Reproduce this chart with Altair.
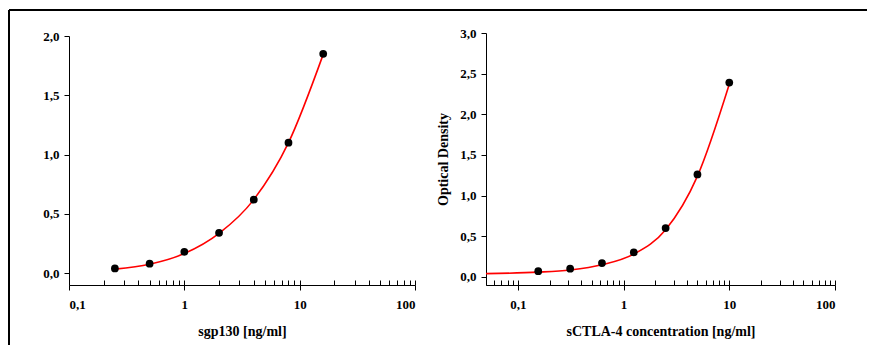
import altair as alt
import pandas as pd

# Left panel: sgp130
sgp_conc = [0.25, 0.5, 1, 2, 4, 8, 16]
sgp_od = [0.04, 0.08, 0.18, 0.34, 0.62, 1.10, 1.85]
sgp_curve_x = [0.25, 0.5, 1, 2, 4, 8, 16]
sgp_curve_y = [0.034, 0.075, 0.165, 0.335, 0.62, 1.10, 1.845]

# Right panel: sCTLA-4
ctla_conc = [0.156, 0.3125, 0.625, 1.25, 2.5, 5, 10]
ctla_od = [0.07, 0.10, 0.17, 0.30, 0.60, 1.26, 2.39]
ctla_curve_x = [0.05, 0.156, 0.3125, 0.625, 1.25, 2.5, 5, 10]
ctla_curve_y = [0.04, 0.058, 0.085, 0.148, 0.28, 0.58, 1.24, 2.37]

x_major = [0.1, 1, 10, 100]
minor_left = [0.1, 0.2, 0.3, 0.4, 0.5, 0.6, 0.7, 0.8, 0.9,
              1, 2, 3, 4, 5, 6, 7, 8, 9,
              10, 20, 30, 40, 50, 60, 70, 80, 90, 100]
minor_right = [0.05, 0.06, 0.07, 0.08, 0.09] + minor_left
y_left_ticks = [0, 0.5, 1.0, 1.5, 2.0]
y_right_ticks = [0, 0.5, 1.0, 1.5, 2.0, 2.5, 3.0]

FONT = "Liberation Serif"
H = 252
XLAB = "replace(toString(datum.value), '.', ',')"
YLAB = "replace(format(datum.value, '.1f'), '.', ',')"


def panel(conc, od, cx, cy, xdom, ydom, yticks, minor, xtitle, ytitle, width, yrange):
    pts = pd.DataFrame({"x": conc, "y": od})
    crv = pd.DataFrame({"x": cx, "y": cy})
    xscale = alt.Scale(type="log", domain=xdom, nice=False)
    yscale = alt.Scale(domain=ydom, nice=False, zero=False, range=yrange)
    yaxis = alt.Axis(values=yticks, labelExpr=YLAB, tickSize=5, labelPadding=5,
                     title=ytitle, titlePadding=9)
    line = alt.Chart(crv).mark_line(color="#ff0000", strokeWidth=1.6, interpolate="monotone").encode(
        x=alt.X("x:Q", scale=xscale,
                axis=alt.Axis(values=x_major, labelExpr=XLAB, tickSize=5, labelPadding=8,
                              title=xtitle, titlePadding=13)),
        y=alt.Y("y:Q", scale=yscale, axis=yaxis),
    )
    dots = alt.Chart(pts).mark_circle(color="black", size=60, opacity=1).encode(
        x=alt.X("x:Q", scale=xscale,
                axis=alt.Axis(orient="top", offset=-H, values=minor, labels=False,
                              domain=False, tickSize=5, title=None)),
        y=alt.Y("y:Q", scale=yscale),
    )
    return alt.layer(line, dots).resolve_axis(x="independent").properties(width=width, height=H)


left = panel(sgp_conc, sgp_od, sgp_curve_x, sgp_curve_y, [0.1, 100], [-0.1, 2.0],
             y_left_ticks, minor_left, "sgp130 [ng/ml]", None, 346, [H, 3])

frame_data = alt.Data(values=[{"k": 0}])
vline = alt.Chart(frame_data).mark_rule(color="black", strokeWidth=2).encode(
    x=alt.value(-60), y=alt.value(-23), y2=alt.value(312))
hline = alt.Chart(frame_data).mark_rule(color="black", strokeWidth=2).encode(
    x=alt.value(-60), x2=alt.value(798), y=alt.value(-23))

left = alt.layer(left, vline, hline)

right = panel(ctla_conc, ctla_od, ctla_curve_x, ctla_curve_y, [0.05, 100], [-0.1, 3.0],
              y_right_ticks, minor_right, "sCTLA-4 concentration [ng/ml]", "Optical Density", 349, [H, 0])

chart = alt.hconcat(left, right, spacing=71, bounds="flush").properties(
    padding={"left": 8, "top": 9, "right": 0, "bottom": 0},
    background="white",
).configure_view(strokeWidth=0).configure_axis(
    grid=False, domainColor="black", tickColor="black", labelColor="black",
    titleColor="black", labelFont=FONT, titleFont=FONT, labelFontSize=13,
    titleFontSize=14, labelFontWeight="bold", titleFontWeight="bold",
    domainWidth=1, tickWidth=1,
)

chart.save("out.html", embed_options={"renderer": "svg", "actions": False})
